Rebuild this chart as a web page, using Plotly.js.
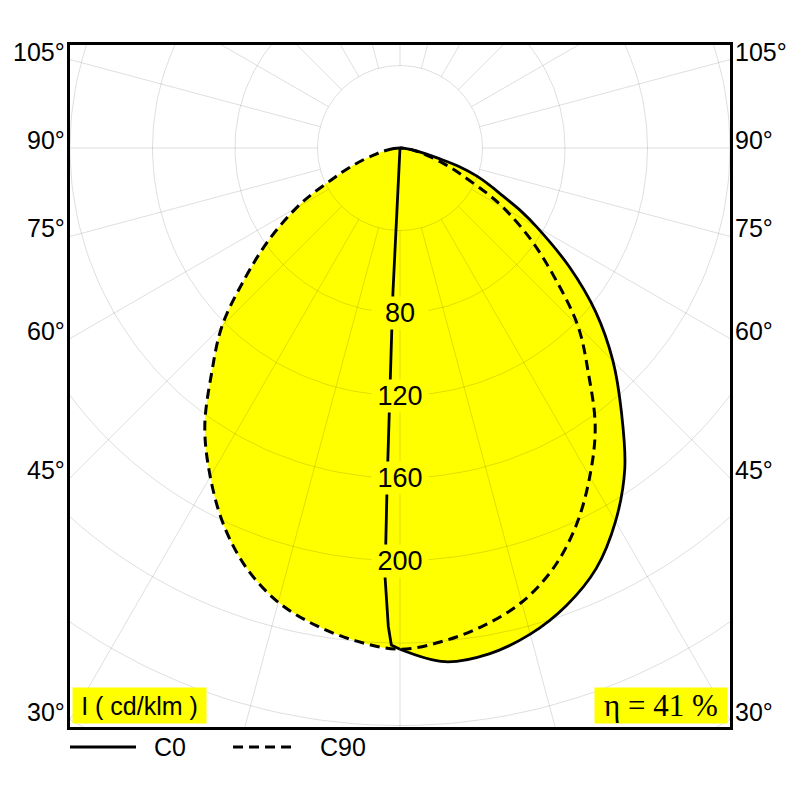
<!DOCTYPE html>
<html><head><meta charset="utf-8">
<script src="https://cdn.plot.ly/plotly-3.0.1.min.js"></script>
<style>html,body{margin:0;padding:0;background:#fff}</style>
</head><body><div id="chart" style="width:800px;height:800px"></div>
<script>
// gamma angles (deg from nadir) and luminous intensity (cd/klm)
const gammaDeg = [0,5,10,15,20,25,30,35,40,45,50,55,60,62.5,65,67.5,70,72.5,75,77.5,80,85,90];
const c0   = [243,250,249,244,236,225,209,190,167,146,124,100,76.5,66,55,47,39.5,30.5,19,12.5,8,3,0];
const c90  = [243,240,235,228,217,202,184,165,142,122,98,77.5,58,47.5,37,30,23.5,18,13,10,7,3,0];
const c180Gamma = [0,1.0,1.4,2.0,2.2,2.4,2.8,90];
const c180 = [243,241,232,208,162.5,114,70.4,0];
const gridRadii = [40,80,120,160,200,240,280,320];
const radialLabels = [80,120,160,200];
const angleLabels = [105,90,75,60,45,30];
const spokeStepDeg = 15;
const seriesNames = ['C0','C90'];
const efficiencyText = 'η = 41 %';
const unitText = 'I ( cd/klm )';

const XMAX = 160, YTOP = 49.94, YBOT = -280.7;
const rad = d => d*Math.PI/180;
function toXY(gs, Is, side){
  const x=[], y=[];
  for(let i=0;i<gs.length;i++){ x.push(side*Is[i]*Math.sin(rad(gs[i]))); y.push(-Is[i]*Math.cos(rad(gs[i]))); }
  return {x,y};
}
// C0/C180 plane: C180 on left, C0 on right
const left180 = toXY(c180Gamma, c180, -1);
const right0 = toXY(gammaDeg, c0, 1);
// C90/C270 plane (symmetric)
const l90 = toXY(gammaDeg.slice().reverse(), c90.slice().reverse(), -1);
const r90 = toXY(gammaDeg, c90, 1);
const dashed = {x: l90.x.concat(r90.x.slice(1)), y: l90.y.concat(r90.y.slice(1))};

// polar grid
const gx=[], gy=[];
gridRadii.forEach(r=>{ for(let k=0;k<=240;k++){ const t=2*Math.PI*k/240; gx.push(r*Math.cos(t)); gy.push(r*Math.sin(t)); } gx.push(null); gy.push(null); });
for(let a=0;a<360;a+=spokeStepDeg){ const t=rad(a); gx.push(40*Math.cos(t), 420*Math.cos(t), null); gy.push(40*Math.sin(t), 420*Math.sin(t), null); }

const FONT = 'Liberation Sans, Arial, sans-serif';
const Y = '#ffff00';
const traces = [
  {x: dashed.x, y: dashed.y, mode:'lines', fill:'toself', fillcolor:Y, line:{width:0, color:Y, shape:'spline', smoothing:1}, hoverinfo:'skip'},
  {x: left180.x, y: left180.y, mode:'lines', fill:'toself', fillcolor:Y, line:{width:0, color:Y}, hoverinfo:'skip'},
  {x: right0.x, y: right0.y, mode:'lines', fill:'toself', fillcolor:Y, line:{width:0, color:Y, shape:'spline', smoothing:1}, hoverinfo:'skip'},
  {x: gx, y: gy, mode:'lines', line:{width:1, color:'rgba(0,0,0,0.13)'}, hoverinfo:'skip', connectgaps:false},
  {x: dashed.x, y: dashed.y, mode:'lines', name: seriesNames[1], line:{width:3, color:'#000', dash:'10px,6px', shape:'spline', smoothing:1}},
  {x: left180.x, y: left180.y, mode:'lines', name: seriesNames[0], line:{width:2.8, color:'#000'}},
  {x: right0.x, y: right0.y, mode:'lines', name: seriesNames[0], line:{width:2.8, color:'#000', shape:'spline', smoothing:1}}
];

const annotations = [];
radialLabels.forEach(r=>{
  annotations.push({x:0, y:-r, xref:'x', yref:'y', text:String(r), showarrow:false, font:{family:FONT, size:27, color:'#000'}, bgcolor:Y, width:56, height:32, borderpad:0});
});
angleLabels.forEach(a=>{
  const yv = -XMAX*Math.cos(rad(a))/Math.sin(rad(a));
  annotations.push({x:0, y:yv, xref:'paper', yref:'y', text:a+'°', showarrow:false, xanchor:'right', yanchor:'middle', xshift:-3, yshift:8, font:{family:FONT, size:25, color:'#000'}});
  annotations.push({x:1, y:yv, xref:'paper', yref:'y', text:a+'°', showarrow:false, xanchor:'left', yanchor:'middle', xshift:3, yshift:8, font:{family:FONT, size:25, color:'#000'}});
});
annotations.push({x:0, y:0, xref:'paper', yref:'paper', xanchor:'left', yanchor:'bottom', xshift:2, yshift:3, text:unitText, showarrow:false, bgcolor:Y, width:133, height:35, borderpad:0, font:{family:FONT, size:25, color:'#000'}});
annotations.push({x:1, y:0, xref:'paper', yref:'paper', xanchor:'right', yanchor:'bottom', xshift:-2, yshift:3, text:efficiencyText, showarrow:false, bgcolor:Y, width:132, height:35, borderpad:0, font:{family:'Liberation Serif, Times New Roman, serif', size:31, color:'#000'}});
annotations.push({x:0.124, y:-0.029, xref:'paper', yref:'paper', xanchor:'left', yanchor:'middle', text:seriesNames[0], showarrow:false, font:{family:FONT, size:25, color:'#000'}});
annotations.push({x:0.375, y:-0.029, xref:'paper', yref:'paper', xanchor:'left', yanchor:'middle', text:seriesNames[1], showarrow:false, font:{family:FONT, size:25, color:'#000'}});

const shapes = [
  {type:'line', xref:'paper', yref:'paper', x0:0, x1:0.1, y0:-0.0293, y1:-0.0293, line:{color:'#000', width:3}},
  {type:'line', xref:'paper', yref:'paper', x0:0.247, x1:0.336, y0:-0.0293, y1:-0.0293, line:{color:'#000', width:3, dash:'10px,6px'}}
];

const layout = {
  width:800, height:800,
  margin:{l:70, r:70, t:45, b:73},
  paper_bgcolor:'#fff', plot_bgcolor:'#fff',
  showlegend:false,
  xaxis:{range:[-XMAX, XMAX], showgrid:false, zeroline:false, showticklabels:false, ticks:'', showline:true, mirror:true, linecolor:'#000', linewidth:3, fixedrange:true},
  yaxis:{range:[YBOT, YTOP], showgrid:false, zeroline:false, showticklabels:false, ticks:'', showline:true, mirror:true, linecolor:'#000', linewidth:3, fixedrange:true},
  annotations, shapes
};
Plotly.newPlot('chart', traces, layout, {displayModeBar:false, staticPlot:true});
</script></body></html>
